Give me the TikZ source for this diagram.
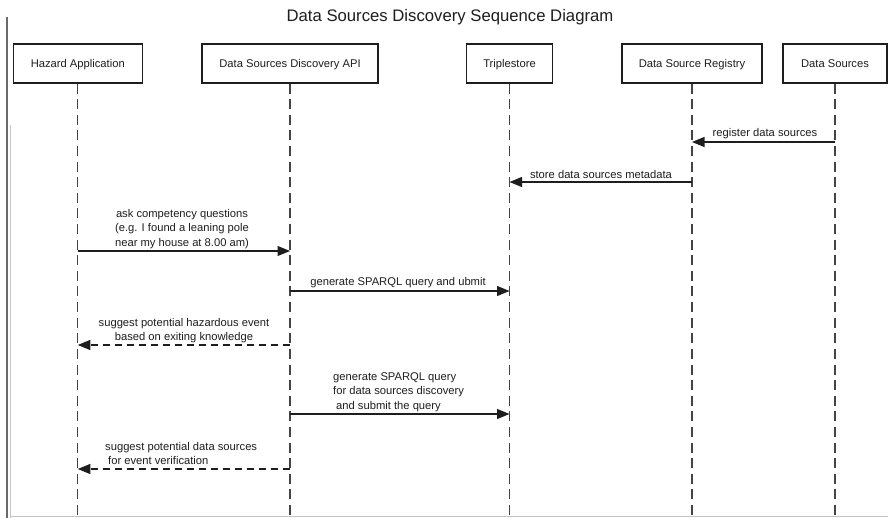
\documentclass[tikz,border=0pt]{standalone}
\usepackage{fontspec}
\setmainfont{Liberation Sans}
\usetikzlibrary{arrows.meta}
\definecolor{ink}{HTML}{1E1E1E}
\definecolor{lifegray}{HTML}{444444}
\definecolor{frameDark}{HTML}{6A6A6A}
\definecolor{frameLight}{HTML}{C4C4C4}
\begin{document}
\begin{tikzpicture}[x=1pt,y=-1pt,
  actor/.style={draw=ink,line width=1.4pt,fill=white,minimum height=39pt,inner sep=0pt,
    text height=10pt,text depth=2pt,
    font=\fontsize{11.2}{14}\selectfont,text=ink},
  life/.style={draw=lifegray,line width=1.3pt,dash pattern=on 10pt off 5.6pt},
  msg/.style={draw=ink,line width=1.1pt,-{Triangle[length=12.5pt,width=10pt]}},
  ret/.style={msg,dash pattern=on 7pt off 5pt},
  lbl/.style={inner sep=0pt,font=\fontsize{11.2}{14.3}\selectfont,text=ink}]
\useasboundingbox (0,0) rectangle (888,518);
\fill[white] (0,0) rectangle (888,518);
% frame lines
\draw[frameDark,line width=2pt] (7,17) -- (7,518);
\draw[frameLight,line width=1pt] (10.5,125) -- (10.5,518);
\draw[frameLight,line width=0.8pt] (10.5,516.6) -- (888,516.6);
% title
\node[lbl,font=\fontsize{16.7}{20}\selectfont] (title) at (450,17.5) {Data Sources Discovery Sequence Diagram};
% participants
\node[actor,minimum width=129pt] (ha) at (77.8,63.5) {Hazard Application};
\node[actor,minimum width=176pt] (api) at (290,63.5) {Data Sources Discovery API};
\node[actor,minimum width=86pt] (ts) at (509.5,63.5) {Triplestore};
\node[actor,minimum width=140pt] (reg) at (692,63.5) {Data Source Registry};
\node[actor,minimum width=104pt] (ds) at (835,63.5) {Data Sources};
% lifelines
\coordinate (haE) at (ha |- 0,518);
\coordinate (apiE) at (api |- 0,518);
\coordinate (tsE) at (ts |- 0,518);
\coordinate (regE) at (reg |- 0,518);
\coordinate (dsE) at (ds |- 0,518);
\draw[life] (ha) -- (haE);
\draw[life] (api) -- (apiE);
\draw[life] (ts) -- (tsE);
\draw[life] (reg) -- (regE);
\draw[life] (ds) -- (dsE);
% messages
\draw[msg] (ds |- 0,142) -- (reg |- 0,142);
\node[lbl] (l1) at (765,134) {register data sources};
\draw[msg] (reg |- 0,182) -- (ts |- 0,182);
\node[lbl] (l2) at (601,174) {store data sources metadata};
\draw[msg] (ha |- 0,251) -- (api |- 0,251);
\node[lbl,align=center] (l3) at (182,229) {ask competency questions\\ (e.g. I found a leaning pole\\near my house at 8.00 am)};
\draw[msg] (api |- 0,291) -- (ts |- 0,291);
\node[lbl] (l4) at (398,283) {generate SPARQL query and ubmit};
\draw[ret] (api |- 0,345) -- (ha |- 0,345);
\node[lbl,align=center] (l5) at (184,330.5) {suggest potential hazardous event\\based on exiting knowledge};
\draw[msg] (api |- 0,414) -- (ts |- 0,414);
\node[lbl,align=left,anchor=west] (l6) at (333,392) {generate SPARQL query\\for data sources discovery\\\hspace{3pt}and submit the query};
\draw[ret] (api |- 0,469) -- (ha |- 0,469);
\node[lbl,align=left,anchor=west] (l7) at (105,453.5) {suggest potential data sources\\\hspace{3pt}for event verification};
\end{tikzpicture}
\end{document}
